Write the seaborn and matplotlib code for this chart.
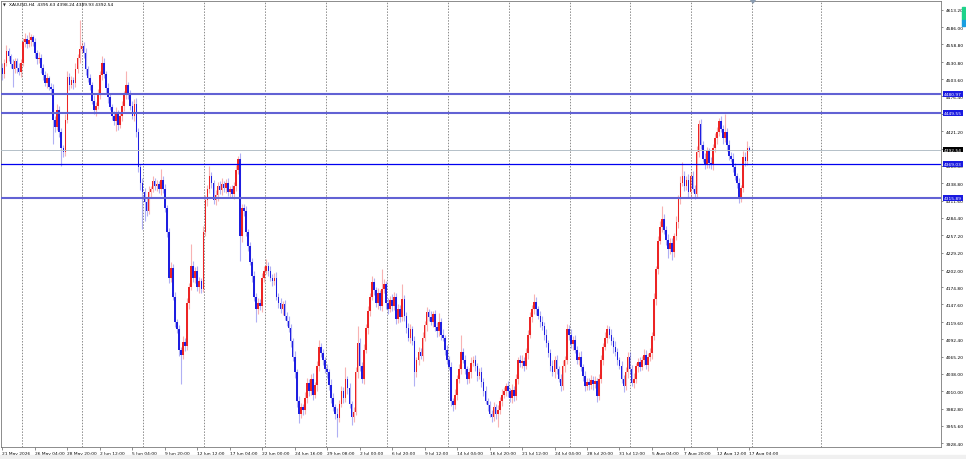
import matplotlib
matplotlib.use('Agg')
import matplotlib.pyplot as plt
import matplotlib.transforms as mtransforms
from matplotlib.patches import Rectangle, Polygon
import seaborn as sns
import numpy as np
import pandas as pd

# --- dados (XAUUSD H4) ---
symbol = 'XAUUSD,H4'
header_ohlc = '4395.63 4398.24 4389.93 4392.54'
first_open = 4522.0

closes = [
    4512, 4530, 4548, 4540, 4528, 4520, 4532, 4522, 4515, 4530,
    4562, 4568, 4560, 4566, 4570, 4562, 4545, 4535, 4538, 4522,
    4510, 4498, 4505, 4492, 4488, 4440, 4428, 4455, 4420, 4395,
    4389, 4440, 4508, 4495, 4502, 4498, 4520, 4538, 4552, 4556,
    4545, 4520, 4505, 4494, 4470, 4455, 4462, 4480, 4510, 4530,
    4512, 4490, 4475, 4460, 4446, 4438, 4450, 4432, 4445, 4462,
    4478, 4494, 4480, 4462, 4446, 4465, 4420, 4365, 4340, 4326,
    4310, 4296, 4326, 4330, 4342, 4335, 4338, 4330, 4345, 4330,
    4300, 4262, 4190, 4205, 4160, 4120, 4108, 4075, 4068, 4088,
    4082, 4150, 4175, 4208, 4190, 4200, 4175, 4185, 4172, 4262,
    4312, 4330, 4350, 4340, 4312, 4320, 4335, 4328, 4338, 4332,
    4340, 4325, 4330, 4322, 4335, 4360, 4378, 4256, 4300, 4295,
    4262, 4240, 4215, 4192, 4160, 4140, 4150, 4145, 4190, 4200,
    4208, 4200, 4190, 4185, 4190, 4160, 4150, 4140, 4148, 4130,
    4122, 4110, 4090, 4065, 4040, 3995, 3975, 3985, 3980, 4000,
    4024, 4010, 4030, 4005, 4020, 4050, 4081, 4070, 4060, 4045,
    4040, 4020, 4000, 3985, 3975, 3968, 3990, 4010, 4000, 4029,
    4015, 3990, 3970, 3978, 4040, 4087, 4050, 4029, 4076, 4110,
    4137, 4160, 4183, 4170, 4150, 4165, 4145, 4172, 4180, 4150,
    4140, 4155, 4145, 4160, 4125, 4140, 4128, 4156, 4130, 4110,
    4095, 4108, 4090, 4040, 4060, 4072, 4066, 4095, 4115, 4135,
    4128, 4120, 4132, 4112, 4105, 4120, 4100, 4095, 4076, 4060,
    4049, 3995, 3989, 4005, 4029, 4045, 4073, 4060, 4045, 4030,
    4040, 4055, 4060, 4050, 4035, 4040, 4025, 4010, 3995, 3988,
    3975, 3970, 3985, 3975, 3980, 3995, 4005, 4010, 4018, 4010,
    4000, 4012, 4002, 4030, 4060, 4055, 4058, 4050, 4070, 4100,
    4127, 4140, 4151, 4140, 4130, 4120, 4113, 4100, 4087, 4070,
    4050, 4040, 4060, 4045, 4030, 4018, 4050, 4060, 4108, 4100,
    4085, 4092, 4076, 4060, 4065, 4049, 4035, 4018, 4025, 4020,
    4028, 4022, 4026, 4002, 4030, 4060, 4081, 4095, 4108, 4100,
    4090, 4080, 4072, 4060, 4050, 4030, 4018, 4040, 4065, 4045,
    4024, 4030, 4050, 4056, 4049, 4060, 4068, 4052, 4065, 4070,
    4097, 4156, 4203, 4248, 4270, 4283, 4265, 4250, 4235, 4245,
    4230, 4255, 4278, 4314, 4340, 4351, 4335, 4345, 4325, 4350,
    4330, 4322, 4389, 4433, 4400, 4378, 4370, 4390, 4372, 4368,
    4395, 4410, 4421, 4438, 4425, 4410, 4420, 4399, 4383, 4378,
    4365, 4351, 4340, 4316, 4331, 4381, 4374, 4395.63, 4392.54,
]

# sombra superior (high - max(open, close))
upper_wicks = [
    8, 6, 10, 5, 4, 7, 6, 5, 8, 6,
    7, 9, 5, 13, 6, 4, 7, 5, 8, 6,
    5, 7, 9, 4, 6, 8, 5, 10, 6, 7,
    5, 9, 8, 6, 7, 5, 9, 6, 45, 7,
    6, 8, 5, 7, 6, 9, 5, 8, 6, 11,
    7, 5, 8, 6, 4, 7, 9, 5, 6, 8,
    7, 22, 5, 6, 8, 7, 9, 6, 5, 8,
    6, 7, 9, 5, 8, 6, 7, 5, 17, 6,
    8, 5, 7, 9, 6, 8, 5, 7, 6, 10,
    7, 8, 6, 35, 9, 7, 8, 6, 5, 9,
    8, 6, 17, 7, 5, 8, 6, 7, 9, 5,
    6, 8, 5, 7, 6, 8, 4, 9, 7, 6,
    8, 5, 7, 6, 9, 5, 8, 6, 7, 9,
    11, 6, 8, 5, 7, 9, 6, 8, 5, 7,
    6, 8, 7, 5, 9, 6, 8, 7, 5, 9,
    8, 6, 7, 9, 5, 8, 11, 6, 7, 5,
    8, 6, 9, 7, 5, 8, 6, 9, 7, 20,
    6, 8, 5, 7, 9, 26, 8, 6, 9, 7,
    8, 6, 9, 7, 5, 8, 6, 31, 7, 5,
    8, 6, 9, 7, 5, 8, 6, 24, 7, 5,
    8, 9, 6, 7, 5, 8, 6, 9, 7, 8,
    6, 9, 5, 7, 8, 14, 6, 8, 5, 7,
    6, 8, 5, 9, 7, 8, 27, 6, 8, 5,
    7, 9, 6, 8, 5, 7, 9, 6, 8, 5,
    7, 6, 9, 5, 8, 6, 9, 7, 5, 8,
    6, 9, 7, 8, 5, 7, 9, 6, 8, 7,
    9, 6, 13, 8, 5, 7, 9, 6, 8, 5,
    7, 9, 6, 8, 5, 7, 9, 6, 8, 7,
    9, 5, 8, 6, 7, 9, 5, 8, 6, 7,
    8, 6, 9, 5, 7, 8, 6, 9, 7, 5,
    8, 6, 9, 7, 5, 8, 6, 9, 7, 8,
    6, 9, 5, 7, 8, 6, 9, 7, 5, 8,
    7, 9, 6, 8, 10, 20, 8, 6, 9, 7,
    8, 6, 9, 7, 10, 22, 8, 6, 9, 7,
    8, 6, 9, 7, 8, 6, 9, 7, 5, 8,
    6, 9, 7, 5, 8, 6, 29, 7, 8, 6,
    9, 7, 5, 8, 6, 9, 7, 11, 2.61,
]

# sombra inferior (min(open, close) - low)
lower_wicks = [
    9, 6, 5, 8, 7, 29, 6, 9, 5, 7,
    6, 8, 7, 5, 9, 6, 8, 7, 5, 9,
    7, 5, 8, 6, 9, 38, 7, 5, 8, 28,
    9, 7, 6, 8, 5, 9, 6, 7, 8, 5,
    7, 9, 6, 8, 5, 7, 9, 6, 8, 7,
    6, 8, 9, 5, 7, 6, 16, 8, 5, 7,
    9, 6, 8, 7, 5, 9, 7, 8, 12, 59,
    30, 8, 6, 9, 5, 7, 8, 6, 9, 7,
    6, 8, 9, 7, 5, 8, 6, 9, 47, 7,
    8, 6, 9, 5, 7, 8, 6, 9, 7, 5,
    7, 9, 6, 8, 5, 7, 9, 6, 8, 7,
    8, 6, 9, 5, 7, 8, 6, 40, 9, 7,
    6, 8, 5, 9, 7, 21, 8, 6, 9, 7,
    5, 8, 6, 9, 7, 5, 8, 6, 9, 7,
    8, 6, 9, 7, 8, 9, 15, 7, 8, 6,
    9, 7, 5, 8, 6, 9, 7, 5, 8, 6,
    9, 7, 8, 6, 9, 30, 7, 5, 8, 6,
    9, 7, 13, 8, 6, 9, 7, 5, 8, 6,
    9, 7, 5, 8, 6, 9, 7, 8, 6, 9,
    7, 5, 8, 6, 9, 7, 8, 6, 9, 7,
    5, 8, 6, 22, 7, 9, 5, 8, 6, 9,
    7, 5, 8, 6, 9, 7, 8, 6, 9, 7,
    5, 8, 10, 7, 9, 6, 8, 5, 7, 9,
    6, 8, 5, 7, 9, 6, 8, 7, 5, 9,
    6, 8, 7, 9, 21, 6, 8, 5, 7, 9,
    6, 8, 7, 5, 9, 6, 8, 7, 5, 9,
    6, 8, 7, 9, 5, 8, 6, 9, 7, 5,
    8, 6, 9, 7, 5, 8, 6, 9, 7, 8,
    6, 9, 5, 7, 8, 6, 9, 7, 5, 8,
    6, 9, 7, 8, 5, 7, 9, 6, 8, 5,
    7, 9, 6, 8, 5, 7, 9, 6, 8, 7,
    5, 8, 6, 9, 7, 5, 8, 6, 9, 7,
    8, 6, 9, 7, 5, 8, 6, 9, 14, 7,
    12, 8, 6, 9, 7, 5, 8, 6, 9, 7,
    5, 8, 6, 9, 7, 5, 8, 6, 9, 7,
    8, 6, 9, 7, 5, 8, 6, 9, 7, 5,
    8, 6, 9, 8, 7, 5, 8, 6, 2.61,
]

x_labels = ['21 May 2026', '26 May 04:00', '28 May 20:00', '2 Jun 12:00', '5 Jun 04:00',
            '9 Jun 20:00', '12 Jun 12:00', '17 Jun 04:00', '22 Jun 00:00', '24 Jun 16:00',
            '29 Jun 08:00', '2 Jul 00:00', '6 Jul 20:00', '9 Jul 12:00', '14 Jul 04:00',
            '16 Jul 20:00', '21 Jul 12:00', '24 Jul 04:00', '28 Jul 20:00', '31 Jul 12:00',
            '5 Aug 04:00', '7 Aug 20:00', '12 Aug 12:00', '17 Aug 04:00']

y_ticks = [4613.20, 4586.00, 4558.80, 4530.80, 4503.60, 4476.40, 4449.20, 4421.20,
           4394.00, 4366.80, 4338.80, 4311.60, 4284.40, 4257.20, 4229.20, 4202.00,
           4174.80, 4147.60, 4119.60, 4092.40, 4065.20, 4038.00, 4010.00, 3982.80,
           3955.60, 3928.40]

levels = [4480.97, 4449.55, 4369.03, 4315.89]
last_price = 4392.54

# --- estilo ---
sns.set_style('white')
plt.rcParams['font.family'] = ['DejaVu Sans']

RED = '#ec2424'
BLUE = '#1e1ee0'
FS = 3.2
W, H = 966, 460

df = pd.DataFrame({'close': closes, 'up': upper_wicks, 'dn': lower_wicks})
df['open'] = [first_open] + closes[:-1]
df['top'] = df[['open', 'close']].max(axis=1)
df['bot'] = df[['open', 'close']].min(axis=1)
df['high'] = df['top'] + df['up']
df['low'] = df['bot'] - df['dn']
colors = np.where(df['close'] >= df['open'], RED, BLUE)

fig = plt.figure(figsize=(W / 100, H / 100), dpi=100)
ax = fig.add_axes([1 / W, 12 / H, 940 / W, 446 / H])

# grade semanal pontilhada
week_lines = list(np.arange(9.4, 372, 30)) + [403.3]
for xv in week_lines:
    ax.axvline(xv, color='#8c8c8c', lw=0.7, ls=(0, (1.5, 1.5)), zorder=0)

# velas
ax.vlines(df.index, df['low'], df['high'], colors=colors, lw=0.8, alpha=0.35, zorder=2)
ax.bar(df.index, np.maximum(df['top'] - df['bot'], 0.9), bottom=df['bot'],
       width=0.8, color=colors, linewidth=0, zorder=2)

# niveis horizontais
ax.axhline(last_price, color='#b4c0c8', lw=0.7, zorder=3)
for lv in levels:
    if lv == 4369.03:
        ax.axhline(lv, color='#0000f0', lw=0.9, zorder=4)
    else:
        ax.axhline(lv, color='#6262d4', lw=1.5, zorder=4)

ax.set_xlim(-0.7, 462.4)
ax.set_ylim(3922.1, 4627.4)

# eixo y a direita
ax.yaxis.tick_right()
ax.set_yticks(y_ticks)
ax.set_yticklabels([f'{v:.2f}' for v in y_ticks], fontsize=FS)
ax.tick_params(axis='y', right=True, left=False, length=1.6, width=0.5,
               pad=2.0, color='#606060', labelcolor='black')

# eixo x
ax.set_xticks(np.arange(0, len(closes), 16))
ax.set_xticklabels(x_labels, fontsize=FS, ha='left')
ax.tick_params(axis='x', bottom=True, length=2.0, width=0.5, pad=0.8,
               color='#606060', labelcolor='black')

for sp in ax.spines.values():
    sp.set_color('#7a7a7a')
    sp.set_linewidth(0.6)

# etiquetas dos niveis (cobrem os rotulos do eixo, como no terminal)
blend = mtransforms.blended_transform_factory(ax.transAxes, ax.transData)
for lv in levels:
    ax.text(1 + 3 / 940, lv, f'{lv:.2f}', transform=blend, ha='left', va='center',
            fontsize=FS, color='white', zorder=6, clip_on=False,
            bbox=dict(boxstyle='square,pad=0.22', fc='#1a1ae0', ec='none'))
ax.text(1 + 3 / 940, last_price, f'{last_price:.2f}', transform=blend, ha='left',
        va='center', fontsize=FS, color='white', zorder=6, clip_on=False,
        bbox=dict(boxstyle='square,pad=0.22', fc='black', ec='none'))

# cabecalho
fig.text(3 / W, 1 - 5.5 / H, '\u25bc', fontsize=2.6, va='center', ha='left', color='#202020')
fig.text(9 / W, 1 - 5.5 / H, f'{symbol}  {header_ohlc}', fontsize=FS,
         va='center', ha='left', color='black')

# detalhes da janela
fig.patches.append(Rectangle((0, 0), 1, 4 / H, transform=fig.transFigure,
                             color='#f0f0f0', zorder=0))
fig.patches.append(Rectangle((962 / W, 1 - 21 / H), 3 / W, 13 / H,
                             transform=fig.transFigure, color='#1dd38a'))
fig.patches.append(Rectangle((962 / W, 1 - 27 / H), 3 / W, 6 / H,
                             transform=fig.transFigure, color='#1a9fe0'))
fig.patches.append(Polygon([(750 / W, 1), (756 / W, 1), (753 / W, 1 - 4 / H)],
                           closed=True, transform=fig.transFigure, color='#8a9bb0'))

fig.savefig('out.png', dpi=100)
